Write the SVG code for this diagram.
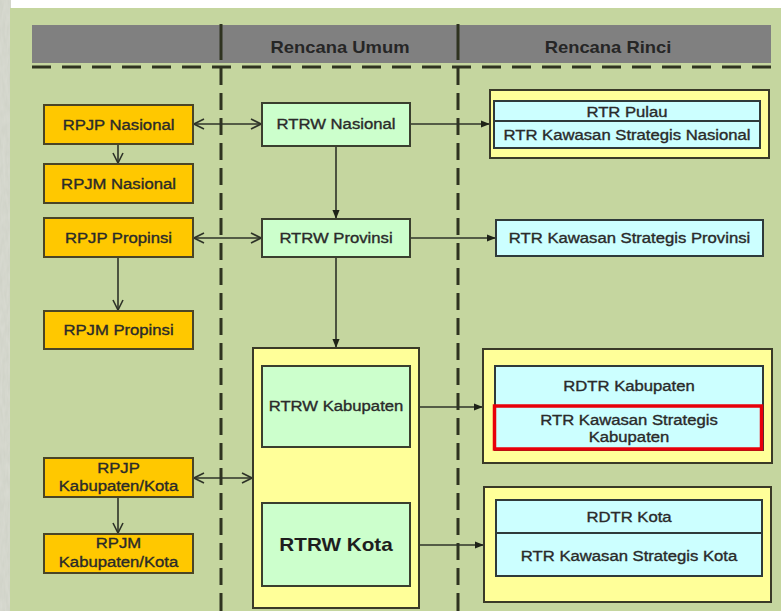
<svg xmlns="http://www.w3.org/2000/svg" width="781" height="611" viewBox="0 0 781 611">
  <style>
    .bg { fill: #c5d69f; }
    .hdr { fill: #808080; }
    .sep { stroke: #2f3320; stroke-width: 3; fill: none; }
    .orange { fill: #ffc800; stroke: #4a4526; stroke-width: 2; }
    .mint { fill: #ccffcc; stroke: #3a3f2e; stroke-width: 2; }
    .yellow { fill: #ffff99; stroke: #3a3a28; stroke-width: 2; }
    .cyan { fill: #ccffff; stroke: #2f3a3a; stroke-width: 2; }
    .red { fill: none; stroke: #e8000a; stroke-width: 3.5; }
    .div { stroke: #2f3a3a; stroke-width: 2; }
    .t { font-family: "Liberation Sans", Arial, sans-serif; font-size: 14.5px; fill: #2a2a2a; text-anchor: middle; stroke: #2a2a2a; stroke-width: 0.35; }
    .th { font-family: "Liberation Sans", Arial, sans-serif; font-size: 16px; font-weight: bold; fill: #262626; text-anchor: middle; }
    .tb { font-family: "Liberation Sans", Arial, sans-serif; font-size: 18px; font-weight: bold; fill: #1e1e1e; text-anchor: middle; }
    .ln { stroke: #2e3328; stroke-width: 1.6; fill: none; }
    .open { marker-end: url(#open); }
    .both { marker-start: url(#open); marker-end: url(#open); }
    .solid { marker-end: url(#solid); }
  </style>
  <defs>
    <marker id="open" viewBox="0 0 12 12" refX="11" refY="6" markerWidth="12" markerHeight="12" markerUnits="userSpaceOnUse" orient="auto-start-reverse">
      <path d="M1,1 L11,6 L1,11" fill="none" stroke="#2e3328" stroke-width="1.6"/>
    </marker>
    <marker id="solid" viewBox="0 0 10 10" refX="9" refY="5" markerWidth="9" markerHeight="9" markerUnits="userSpaceOnUse" orient="auto">
      <path d="M0,1 L10,5 L0,9 Z" fill="#1e2218"/>
    </marker>
    <filter id="grain" x="0" y="0" width="100%" height="100%">
      <feTurbulence type="fractalNoise" baseFrequency="0.35 0.08" numOctaves="2" seed="4"/>
      <feColorMatrix type="matrix" values="0 0 0 0 0.62  0 0 0 0 0.64  0 0 0 0 0.57  0 0 0 -1.2 1.1"/>
      <feComposite in2="SourceGraphic" operator="in"/>
    </filter>
  </defs>

  <!-- page frame: white margin, textured edge, green panel -->
  <rect x="0" y="0" width="781" height="611" fill="#ffffff"/>
  <rect x="0" y="0" width="11" height="611" fill="#d9dbd2"/>
  <rect x="0" y="0" width="11" height="611" fill="#ffffff" filter="url(#grain)"/>
  <rect class="bg" x="10" y="8" width="771" height="603"/>

  <!-- column header -->
  <g id="header">
    <rect class="hdr" x="32" y="25" width="739" height="38"/>
    <text class="th" transform="translate(340,53) scale(1.15,1)">Rencana Umum</text>
    <text class="th" transform="translate(608,53) scale(1.15,1)">Rencana Rinci</text>
  </g>

  <!-- column separators -->
  <g id="separators">
    <line class="sep" x1="32" y1="67" x2="771" y2="67" stroke-dasharray="19 11"/>
    <line class="sep" x1="221" y1="24" x2="221" y2="611" stroke-dasharray="36 8 17 8 17 8 17 8 17 8 17 8 17 8 17 8 17 8 17 8 17 8 17 8 17 8 17 8 17 8 17 8 17 8 17 8 17 8 17 8 17 8 17 8"/>
    <line class="sep" x1="458" y1="24" x2="458" y2="611" stroke-dasharray="36 8 17 8 17 8 17 8 17 8 17 8 17 8 17 8 17 8 17 8 17 8 17 8 17 8 17 8 17 8 17 8 17 8 17 8 17 8 17 8 17 8 17 8"/>
  </g>

  <!-- connectors -->
  <g id="connectors">
    <line class="ln open" x1="118" y1="144" x2="118" y2="163"/>
    <line class="ln open" x1="118" y1="257" x2="118" y2="310"/>
    <line class="ln open" x1="118" y1="497" x2="118" y2="533"/>
    <line class="ln both" x1="194" y1="124" x2="261" y2="124"/>
    <line class="ln both" x1="194" y1="238" x2="261" y2="238"/>
    <line class="ln both" x1="194" y1="478" x2="252" y2="478"/>
    <line class="ln solid" x1="336" y1="146" x2="336" y2="218"/>
    <line class="ln solid" x1="336" y1="257" x2="336" y2="347"/>
    <line class="ln solid" x1="411" y1="124" x2="489" y2="124"/>
    <line class="ln solid" x1="411" y1="238" x2="495" y2="238"/>
    <line class="ln solid" x1="411" y1="407" x2="482" y2="407"/>
    <line class="ln solid" x1="411" y1="545" x2="483" y2="545"/>
  </g>

  <!-- development plans (left column) -->
  <g id="rpjp-nasional">
    <rect class="orange" x="44" y="105" width="149" height="39"/>
    <text class="t" transform="translate(118.5,130) scale(1.15,1)">RPJP Nasional</text>
  </g>
  <g id="rpjm-nasional">
    <rect class="orange" x="44" y="164" width="149" height="39"/>
    <text class="t" transform="translate(118.5,189) scale(1.15,1)">RPJM Nasional</text>
  </g>
  <g id="rpjp-propinsi">
    <rect class="orange" x="44" y="218" width="149" height="39"/>
    <text class="t" transform="translate(118.5,243) scale(1.15,1)">RPJP Propinsi</text>
  </g>
  <g id="rpjm-propinsi">
    <rect class="orange" x="44" y="311" width="149" height="38"/>
    <text class="t" transform="translate(118.5,335) scale(1.15,1)">RPJM Propinsi</text>
  </g>
  <g id="rpjp-kabkota">
    <rect class="orange" x="44" y="458" width="149" height="39"/>
    <text class="t" transform="translate(118.5,473) scale(1.15,1)">RPJP</text>
    <text class="t" transform="translate(118.5,491) scale(1.15,1)">Kabupaten/Kota</text>
  </g>
  <g id="rpjm-kabkota">
    <rect class="orange" x="44" y="534" width="149" height="39"/>
    <text class="t" transform="translate(118.5,548) scale(1.15,1)">RPJM</text>
    <text class="t" transform="translate(118.5,567) scale(1.15,1)">Kabupaten/Kota</text>
  </g>

  <!-- general spatial plans (middle column) -->
  <g id="rtrw-nasional">
    <rect class="mint" x="262" y="103" width="148" height="43"/>
    <text class="t" transform="translate(336,129) scale(1.15,1)">RTRW Nasional</text>
  </g>
  <g id="rtrw-provinsi">
    <rect class="mint" x="262" y="219" width="148" height="38"/>
    <text class="t" transform="translate(336,243) scale(1.15,1)">RTRW Provinsi</text>
  </g>
  <g id="rtrw-kabkota">
    <rect class="yellow" x="253" y="348" width="166" height="260"/>
    <g id="rtrw-kabupaten">
      <rect class="mint" x="262" y="366" width="148" height="81"/>
      <text class="t" transform="translate(336,411) scale(1.15,1)">RTRW Kabupaten</text>
    </g>
    <g id="rtrw-kota">
      <rect class="mint" x="262" y="503" width="148" height="83"/>
      <text class="tb" transform="translate(336,551) scale(1.15,1)">RTRW Kota</text>
    </g>
  </g>

  <!-- detailed spatial plans (right column) -->
  <g id="rinci-nasional">
    <rect class="yellow" x="490" y="90" width="279" height="68"/>
    <rect class="cyan" x="494" y="101" width="266" height="47"/>
    <line class="div" x1="494" y1="121" x2="760" y2="121"/>
    <text class="t" transform="translate(627,117) scale(1.15,1)">RTR Pulau</text>
    <text class="t" transform="translate(627,140) scale(1.15,1)">RTR Kawasan Strategis Nasional</text>
  </g>
  <g id="rtr-ks-provinsi">
    <rect class="cyan" x="496" y="220" width="267" height="36"/>
    <text class="t" transform="translate(629.5,243) scale(1.15,1)">RTR Kawasan Strategis Provinsi</text>
  </g>
  <g id="rinci-kabupaten">
    <rect class="yellow" x="483" y="349" width="289" height="114"/>
    <rect class="cyan" x="495" y="366" width="268" height="84"/>
    <text class="t" transform="translate(629,391) scale(1.15,1)">RDTR Kabupaten</text>
    <rect class="red" x="494.5" y="406" width="267" height="43"/>
    <text class="t" transform="translate(629,425) scale(1.15,1)">RTR Kawasan Strategis</text>
    <text class="t" transform="translate(629,442) scale(1.15,1)">Kabupaten</text>
  </g>
  <g id="rinci-kota">
    <rect class="yellow" x="484" y="487" width="287" height="115"/>
    <rect class="cyan" x="496" y="500" width="266" height="76"/>
    <line class="div" x1="496" y1="533" x2="762" y2="533"/>
    <text class="t" transform="translate(629,522) scale(1.15,1)">RDTR Kota</text>
    <text class="t" transform="translate(629,561) scale(1.15,1)">RTR Kawasan Strategis Kota</text>
  </g>
</svg>
